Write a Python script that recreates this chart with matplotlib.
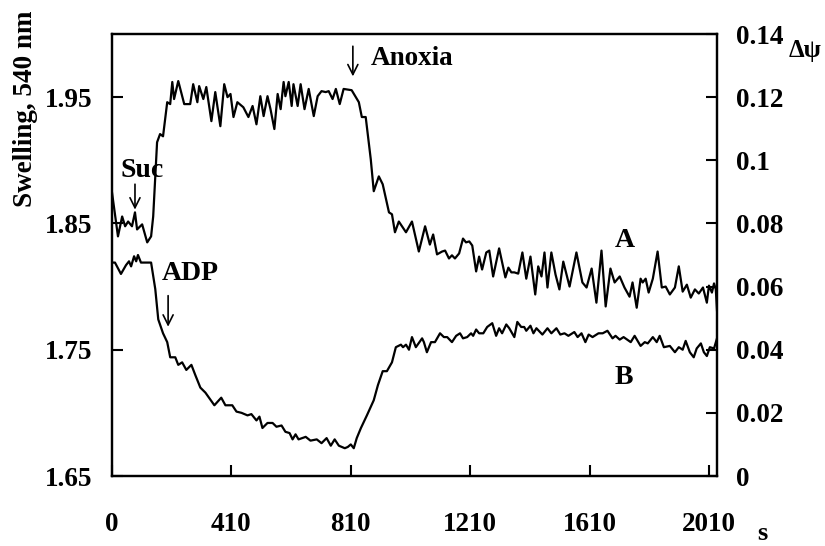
import matplotlib
matplotlib.use("Agg")
import matplotlib.pyplot as plt

plt.rcParams['font.family'] = ['Liberation Serif', 'DejaVu Serif']
plt.rcParams['font.weight'] = 'bold'

# Curve A (right axis, delta psi)
a_x = [10, 30, 44, 54, 64, 77, 87, 94, 111, 128, 141, 148, 161, 171, 181, 195, 205, 212, 218, 232,
       252, 272, 282, 296, 302, 316, 326, 343, 356, 373, 386, 397, 407, 417, 430, 450, 467, 481, 494, 507,
       518, 531, 541, 554, 565, 575, 585, 591, 602, 612, 618, 632, 642, 655, 669, 686, 699, 712, 726, 736,
       749, 760, 773, 786, 813, 837, 847, 860, 877, 887, 904, 917, 938, 948, 958, 971, 995, 1015, 1038, 1059,
       1075, 1086, 1099, 1116, 1126, 1139, 1149, 1159, 1173, 1186, 1196, 1207, 1217, 1230, 1240, 1250, 1264, 1274, 1287, 1307,
       1328, 1338, 1348, 1358, 1371, 1385, 1398, 1412, 1428, 1438, 1449, 1459, 1469, 1482, 1496, 1509, 1522, 1543, 1566, 1586,
       1600, 1617, 1633, 1650, 1664, 1680, 1694, 1711, 1727, 1744, 1754, 1768, 1781, 1788, 1798, 1808, 1822, 1838, 1852, 1865,
       1879, 1896, 1909, 1922, 1936, 1949, 1963, 1976, 1990, 2003, 2010, 2020, 2027, 2033, 2037]
a_y = [0.0898, 0.0759, 0.0822, 0.0791, 0.0806, 0.0791, 0.0835, 0.0781, 0.0797, 0.0740, 0.0759, 0.0822, 0.1057, 0.1083, 0.1076, 0.1184, 0.1178, 0.1248, 0.1194, 0.1251,
       0.1178, 0.1178, 0.1241, 0.1184, 0.1235, 0.1194, 0.1232, 0.1124, 0.1216, 0.1108, 0.1241, 0.1200, 0.1210, 0.1137, 0.1184, 0.1168, 0.1137, 0.1172, 0.1114, 0.1203,
       0.1140, 0.1203, 0.1162, 0.1099, 0.1210, 0.1162, 0.1248, 0.1203, 0.1248, 0.1172, 0.1241, 0.1172, 0.1241, 0.1162, 0.1226, 0.1140, 0.1203, 0.1219, 0.1216, 0.1219,
       0.1194, 0.1226, 0.1178, 0.1226, 0.1222, 0.1184, 0.1137, 0.1137, 0.1003, 0.0902, 0.0949, 0.0924, 0.0835, 0.0829, 0.0772, 0.0806, 0.0772, 0.0806, 0.0711, 0.0791,
       0.0733, 0.0765, 0.0702, 0.0711, 0.0714, 0.0689, 0.0699, 0.0689, 0.0705, 0.0752, 0.0740, 0.0743, 0.0730, 0.0648, 0.0695, 0.0654, 0.0708, 0.0714, 0.0632, 0.0721,
       0.0629, 0.0660, 0.0645, 0.0645, 0.0641, 0.0708, 0.0625, 0.0695, 0.0575, 0.0664, 0.0632, 0.0708, 0.0597, 0.0708, 0.0638, 0.0591, 0.0679, 0.0600, 0.0708, 0.0613,
       0.0597, 0.0657, 0.0549, 0.0714, 0.0537, 0.0657, 0.0613, 0.0632, 0.0597, 0.0568, 0.0613, 0.0533, 0.0625, 0.0613, 0.0625, 0.0581, 0.0625, 0.0711, 0.0597, 0.0600,
       0.0575, 0.0597, 0.0664, 0.0584, 0.0606, 0.0565, 0.0591, 0.0578, 0.0597, 0.0549, 0.0603, 0.0581, 0.0610, 0.0591, 0.0525]

# Curve B (left axis, swelling)
b_x = [10, 20, 40, 57, 67, 74, 84, 91, 97, 107, 121, 141, 155, 165, 181, 195, 205, 222, 232, 245,
       259, 276, 289, 306, 323, 353, 376, 390, 413, 427, 444, 464, 477, 494, 504, 514, 531, 548, 561, 578,
       591, 605, 615, 625, 635, 659, 675, 696, 712, 729, 743, 756, 770, 790, 800, 810, 820, 830, 844, 864,
       887, 901, 917, 931, 948, 961, 978, 985, 995, 1005, 1015, 1028, 1049, 1055, 1065, 1079, 1092, 1109, 1122, 1133,
       1149, 1163, 1176, 1186, 1200, 1213, 1220, 1230, 1240, 1254, 1267, 1284, 1297, 1307, 1317, 1331, 1341, 1358, 1368, 1381,
       1391, 1398, 1412, 1422, 1432, 1452, 1469, 1482, 1499, 1512, 1526, 1539, 1559, 1570, 1583, 1596, 1607, 1620, 1640, 1654,
       1670, 1687, 1697, 1711, 1724, 1748, 1761, 1781, 1795, 1805, 1822, 1835, 1845, 1859, 1879, 1896, 1909, 1922, 1932, 1946,
       1959, 1969, 1983, 1993, 2003, 2013, 2027, 2037]
b_y = [1.819, 1.819, 1.810, 1.817, 1.820, 1.816, 1.824, 1.820, 1.825, 1.819, 1.819, 1.819, 1.798, 1.774, 1.763, 1.756, 1.744, 1.744, 1.738, 1.740,
       1.734, 1.738, 1.730, 1.720, 1.716, 1.706, 1.712, 1.706, 1.706, 1.701, 1.700, 1.698, 1.699, 1.694, 1.697, 1.688, 1.692, 1.692, 1.689, 1.690,
       1.685, 1.684, 1.679, 1.683, 1.679, 1.681, 1.678, 1.679, 1.676, 1.680, 1.674, 1.679, 1.674, 1.672, 1.673, 1.675, 1.672, 1.680, 1.688, 1.698,
       1.710, 1.722, 1.733, 1.733, 1.740, 1.752, 1.754, 1.752, 1.754, 1.750, 1.760, 1.752, 1.759, 1.756, 1.748, 1.756, 1.756, 1.763, 1.760, 1.760,
       1.756, 1.761, 1.763, 1.759, 1.760, 1.763, 1.761, 1.766, 1.763, 1.763, 1.768, 1.771, 1.761, 1.767, 1.763, 1.770, 1.767, 1.760, 1.772, 1.768,
       1.768, 1.765, 1.769, 1.763, 1.767, 1.762, 1.767, 1.763, 1.767, 1.762, 1.763, 1.761, 1.764, 1.760, 1.763, 1.756, 1.762, 1.760, 1.763, 1.763,
       1.765, 1.759, 1.761, 1.758, 1.760, 1.756, 1.761, 1.753, 1.756, 1.755, 1.760, 1.756, 1.761, 1.752, 1.753, 1.748, 1.752, 1.750, 1.757, 1.748,
       1.744, 1.751, 1.755, 1.748, 1.745, 1.752, 1.751, 1.759]

x_ticks = [10, 410, 810, 1210, 1610, 2010]
x_tick_labels = ["0", "410", "810", "1210", "1610", "2010"]
left_ticks = [1.65, 1.75, 1.85, 1.95]
right_ticks = [0, 0.02, 0.04, 0.06, 0.08, 0.1, 0.12, 0.14]
right_tick_labels = ["0", "0.02", "0.04", "0.06", "0.08", "0.1", "0.12", "0.14"]

fig = plt.figure(figsize=(8.25, 5.46), dpi=100)
ax = fig.add_axes([112/825, 70/546, 605/825, 442/546])
ax2 = ax.twinx()

ax.plot(b_x, b_y, color='black', lw=1.6)
ax2.plot(a_x, a_y, color='black', lw=1.6)

ax.set_xlim(10, 2037)
ax.set_ylim(1.65, 2.0)
ax2.set_ylim(0, 0.14)

ax.set_xticks(x_ticks)
ax.set_xticklabels(x_tick_labels)
ax.set_yticks(left_ticks)
ax.set_yticklabels([f"{v:.2f}" for v in left_ticks])
ax2.set_yticks(right_ticks)
ax2.set_yticklabels(right_tick_labels)

for a in (ax, ax2):
    for s in a.spines.values():
        s.set_linewidth(1.6)
ax.tick_params(axis='x', direction='in', length=8, width=1.5, pad=26, labelsize=19.5)
ax.tick_params(axis='y', direction='in', length=8, width=1.5, pad=14, labelsize=19.5)
ax2.tick_params(axis='y', direction='in', length=8, width=1.5, pad=14, labelsize=19.5)
for lab in ax.get_xticklabels() + ax.get_yticklabels() + ax2.get_yticklabels():
    lab.set_fontweight('bold')

ax.set_ylabel("Swelling, 540 nm", fontsize=19.5, fontweight='bold')
ax.yaxis.set_label_coords(-0.122, 0.83)

fig.text(805/825, 1 - 50/546, "Δψ", fontsize=18, fontweight='bold', ha='center', va='center')
fig.text(762/825, 1 - 534/546, "s", fontsize=19, fontweight='bold', ha='center', va='center')

arrow_kw = dict(arrowstyle='->', color='black', lw=1.2, mutation_scale=18)
ax2.annotate("", xy=(817, 0.1257), xytext=(817, 0.1370), arrowprops=arrow_kw)
ax2.text(877, 0.1321, "Anoxia", fontsize=19.5, fontweight='bold', ha='left', va='center')
ax2.annotate("", xy=(87, 0.0835), xytext=(87, 0.0933), arrowprops=arrow_kw)
ax2.text(111, 0.0968, "Suc", fontsize=20, fontweight='bold', ha='center', va='center')
ax.annotate("", xy=(198, 1.766), xytext=(198, 1.795), arrowprops=arrow_kw)
ax.text(272, 1.810, "ADP", fontsize=20, fontweight='bold', ha='center', va='center')
ax2.text(1727, 0.0746, "A", fontsize=20, fontweight='bold', ha='center', va='center')
ax2.text(1724, 0.0311, "B", fontsize=20, fontweight='bold', ha='center', va='center')

fig.savefig("out.png", dpi=100)
